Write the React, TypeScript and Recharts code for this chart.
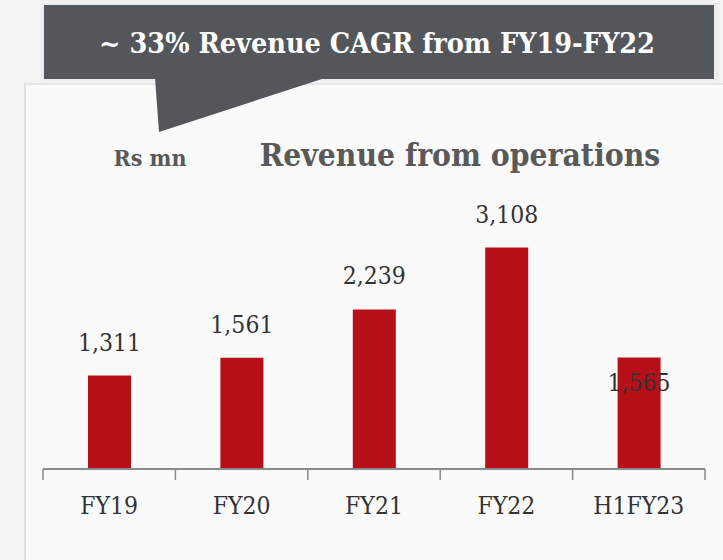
import React from "react";
import { BarChart, Bar, XAxis, YAxis, LabelList } from "recharts";

const categories = ["FY19", "FY20", "FY21", "FY22", "H1FY23"];
const revenue = [1311, 1561, 2239, 3108, 1565];
const valueLabels = ["1,311", "1,561", "2,239", "3,108", "1,565"];
const labelInsideBar = [false, false, false, false, true];

const calloutText = "~ 33% Revenue CAGR from FY19-FY22";
const chartTitle = "Revenue from operations";
const unitText = "Rs mn";

const data = categories.map((c, i) => ({
  name: c,
  value: revenue[i],
  label: valueLabels[i],
  inside: labelInsideBar[i],
}));

const FONT = "'DejaVu Serif Condensed', 'DejaVu Serif', serif";
const BAR_COLOR = "#b60f18";
const AXIS_COLOR = "#8a8a8a";
const TEXT_COLOR = "#333333";

const CategoryTick = (props: any) => {
  const { x, y, payload, index, width, visibleTicksCount } = props;
  const count = visibleTicksCount || categories.length;
  const half = (width || 662) / count / 2;
  return (
    <g>
      <line x1={x - half} y1={y - 8} x2={x - half} y2={y + 3} stroke={AXIS_COLOR} strokeWidth={1.5} />
      {index === count - 1 && (
        <line x1={x + half} y1={y - 8} x2={x + half} y2={y + 3} stroke={AXIS_COLOR} strokeWidth={1.5} />
      )}
      <text x={x} y={y + 37} textAnchor="middle" fontFamily={FONT} fontSize={24.5} fill={TEXT_COLOR}>
        {payload.value}
      </text>
    </g>
  );
};

const ValueLabel = (props: any) => {
  const { x, y, width, index } = props;
  const d = data[index];
  const ty = d.inside ? y + 34 : y - 25;
  return (
    <text x={x + width / 2} y={ty} textAnchor="middle" fontFamily={FONT} fontSize={24.5} fill={TEXT_COLOR}>
      {d.label}
    </text>
  );
};

export default function App() {
  return (
    <div
      style={{
        position: "fixed",
        left: 0,
        top: 0,
        width: 723,
        height: 560,
        background: "#f3f3f3",
        overflow: "hidden",
        fontFamily: FONT,
      }}
    >
      <div
        style={{
          position: "absolute",
          left: 24,
          top: 83,
          width: 723,
          height: 560,
          background: "#fafafa",
          borderLeft: "2px solid #e0e0e0",
          borderTop: "2px solid #e6e6e6",
        }}
      />
      <div
        style={{
          position: "absolute",
          left: 41,
          top: 3,
          width: 678,
          height: 78,
          background: "#ececec",
        }}
      />
      <div
        style={{
          position: "absolute",
          left: 44,
          top: 5,
          width: 670,
          height: 74,
          background: "#53565b",
        }}
      />
      <svg style={{ position: "absolute", left: 0, top: 0 }} width={723} height={560}>
        <polygon points="155,78 325,78 159,132" fill="#53565b" />
      </svg>
      <div
        style={{
          position: "absolute",
          left: 44,
          top: 5,
          width: 670,
          height: 74,
          display: "flex",
          alignItems: "center",
          justifyContent: "center",
          color: "#ffffff",
          fontWeight: "bold",
          fontSize: 28.5,
          paddingRight: 4,
          paddingTop: 2,
          boxSizing: "border-box",
        }}
      >
        {calloutText}
      </div>
      <div
        style={{
          position: "absolute",
          left: 100,
          top: 140,
          width: 100,
          textAlign: "center",
          color: "#595959",
          fontWeight: "bold",
          fontSize: 23,
          lineHeight: "36px",
        }}
      >
        {unitText}
      </div>
      <div
        style={{
          position: "absolute",
          left: 230,
          top: 136,
          width: 460,
          textAlign: "center",
          color: "#595959",
          fontWeight: "bold",
          fontSize: 31.5,
          lineHeight: "38px",
        }}
      >
        {chartTitle}
      </div>
      <div style={{ position: "absolute", left: 0, top: 0 }}>
        <BarChart
          width={723}
          height={560}
          data={data}
          margin={{ top: 184, right: 18, bottom: 0, left: 43 }}
        >
          <YAxis hide domain={[0, 4000]} />
          <XAxis
            dataKey="name"
            height={91}
            axisLine={{ stroke: AXIS_COLOR, strokeWidth: 2 }}
            tickLine={false}
            tick={<CategoryTick />}
            interval={0}
          />
          <Bar dataKey="value" fill={BAR_COLOR} barSize={43} isAnimationActive={false}>
            <LabelList dataKey="label" content={<ValueLabel />} />
          </Bar>
        </BarChart>
      </div>
    </div>
  );
}
